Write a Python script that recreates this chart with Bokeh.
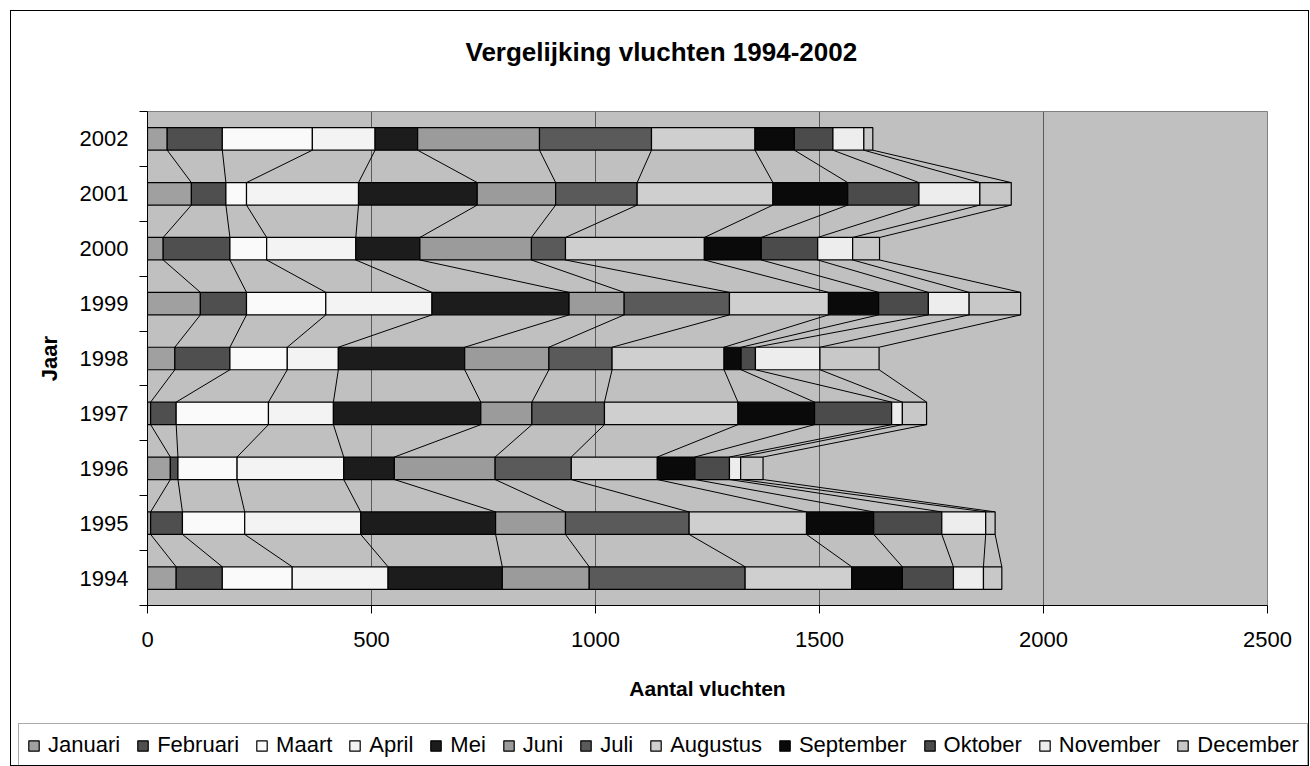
from bokeh.plotting import figure
from bokeh.models import FixedTicker, Legend, LegendItem, Range1d, Title
from bokeh.layouts import column, row
from bokeh.embed import file_html
from bokeh.resources import INLINE
import numpy as np

years = ["1994", "1995", "1996", "1997", "1998", "1999", "2000", "2001", "2002"]
months = ["Januari", "Februari", "Maart", "April", "Mei", "Juni", "Juli",
          "Augustus", "September", "Oktober", "November", "December"]

# values per month, for years 1994..2002
januari = [64, 7, 51, 7, 61, 118, 35, 98, 44]
februari = [103, 71, 17, 57, 123, 103, 149, 77, 123]
maart = [156, 139, 132, 206, 128, 177, 82, 46, 201]
april = [214, 259, 238, 145, 114, 237, 199, 250, 140]
mei = [255, 301, 113, 329, 282, 306, 143, 265, 95]
juni = [194, 156, 225, 114, 188, 123, 249, 175, 272]
juli = [348, 276, 170, 162, 141, 235, 76, 182, 250]
augustus = [238, 262, 192, 298, 250, 221, 310, 303, 231]
september = [113, 150, 84, 171, 38, 112, 127, 167, 88]
oktober = [114, 152, 77, 172, 32, 111, 126, 159, 86]
november = [67, 98, 25, 24, 144, 91, 78, 136, 69]
december = [41, 21, 50, 54, 132, 115, 60, 70, 20]

x_ticks = [0, 500, 1000, 1500, 2000, 2500]

colors = ["#A0A0A0", "#4F4F4F", "#FAFAFA", "#F3F3F3", "#1C1C1C", "#9B9B9B",
          "#5A5A5A", "#CFCFCF", "#0A0A0A", "#4B4B4B", "#EDEDED", "#C8C8C8"]

series = [januari, februari, maart, april, mei, juni, juli, augustus,
          september, oktober, november, december]
vals = np.array(series, dtype=float)
cum = np.cumsum(vals, axis=0)
lefts = cum - vals
ypos = np.arange(len(years)) + 0.5
H = 0.41

FONT = "Liberation Sans"
W = 1297

p = figure(width=W, height=707, output_backend="svg", toolbar_location=None,
           title=None,
           x_range=Range1d(0, 2500), y_range=Range1d(0, len(years)),
           min_border_left=136, min_border_right=41, min_border_top=100,
           min_border_bottom=113)

p.background_fill_color = "#C0C0C0"
p.border_fill_color = "white"
p.outline_line_color = "#808080"

# series lines
x0s, y0s, x1s, y1s = [], [], [], []
for j in range(len(years) - 1):
    for k in range(len(months)):
        x0s.append(cum[k, j + 1]); y0s.append(ypos[j + 1] - H / 2)
        x1s.append(cum[k, j]); y1s.append(ypos[j] + H / 2)
p.segment(x0=x0s, y0=y0s, x1=x1s, y1=y1s, line_color="black", line_width=1)

for k, m in enumerate(months):
    p.hbar(y=ypos, left=lefts[k], right=cum[k], height=H,
           fill_color=colors[k], line_color="black", line_width=1.2)

# grid
p.ygrid.visible = False
p.xgrid.grid_line_color = "#5A5A5A"
p.xgrid.grid_line_width = 1
p.xgrid.ticker = FixedTicker(ticks=x_ticks)

# x axis
p.xaxis.ticker = FixedTicker(ticks=x_ticks)
p.xaxis.major_tick_in = 0
p.xaxis.major_tick_out = 8
p.xaxis.minor_tick_out = 0
p.xaxis.minor_tick_in = 0
p.xaxis.axis_line_color = "black"
p.xaxis.major_tick_line_color = "black"
p.xaxis.major_label_text_font = FONT
p.xaxis.major_label_text_font_size = "22px"
p.xaxis.major_label_text_color = "black"
p.xaxis.major_label_standoff = 18
p.xaxis.axis_label = "Aantal vluchten"
p.xaxis.axis_label_text_font = FONT
p.xaxis.axis_label_text_font_size = "21px"
p.xaxis.axis_label_text_font_style = "bold"
p.xaxis.axis_label_text_color = "black"
p.xaxis.axis_label_standoff = 27

# y axis
p.yaxis.ticker = FixedTicker(ticks=list(ypos), minor_ticks=list(range(len(years) + 1)))
p.yaxis.major_label_overrides = {float(y): yr for y, yr in zip(ypos, years)}
p.yaxis.major_tick_in = 0
p.yaxis.major_tick_out = 0
p.yaxis.minor_tick_in = 0
p.yaxis.minor_tick_out = 8
p.yaxis.minor_tick_line_color = "black"
p.yaxis.axis_line_color = "black"
p.yaxis.major_label_text_font = FONT
p.yaxis.major_label_text_font_size = "22px"
p.yaxis.major_label_text_color = "black"
p.yaxis.major_label_standoff = 11
p.yaxis.axis_label = "Jaar"
p.yaxis.axis_label_text_font = FONT
p.yaxis.axis_label_text_font_size = "22px"
p.yaxis.axis_label_text_font_style = "bold"
p.yaxis.axis_label_text_color = "black"
p.yaxis.axis_label_standoff = 15

# title (spacer nearest to the frame, then the real title)
spacer = Title(text=" ", text_font_size="1px", standoff=37)
p.add_layout(spacer, "above")
title = Title(text="Vergelijking vluchten 1994-2002", align="left", offset=318,
              standoff=10, text_font=FONT, text_font_size="26px",
              text_font_style="bold", text_color="black")
p.add_layout(title, "above")

# legend figure
q = figure(width=W, height=47, output_backend="svg", toolbar_location=None,
           title=None,
           x_range=Range1d(0, 1), y_range=Range1d(0, 1),
           x_axis_location=None, y_axis_location=None,
           min_border=0, min_border_left=0, min_border_right=0,
           min_border_top=0, min_border_bottom=0)
if "frame_align" in q.properties():
    q.frame_align = False
    p.frame_align = False
q.grid.visible = False
q.outline_line_color = None
q.background_fill_color = "white"
q.border_fill_color = "white"

items = []
for k, m in enumerate(months):
    r = q.hbar(y=[-10], left=[0], right=[1], height=0.5,
               fill_color=colors[k], line_color="black", line_width=1.2)
    items.append(LegendItem(label=m, renderers=[r]))

legend = Legend(items=items, orientation="horizontal", location=(7, -2),
                glyph_width=13, glyph_height=13, label_standoff=8, spacing=16,
                padding=8, margin=0,
                label_text_font=FONT, label_text_font_size="22px",
                label_text_color="black",
                border_line_color="#555555", border_line_width=1,
                background_fill_color="white")
q.add_layout(legend, "center")

layout = column(p, row(q, spacing=0), spacing=0, margin=(10, 0, 0, 10),
                styles={"border": "1px solid black"})

open("out.html", "w").write(file_html(layout, INLINE))
